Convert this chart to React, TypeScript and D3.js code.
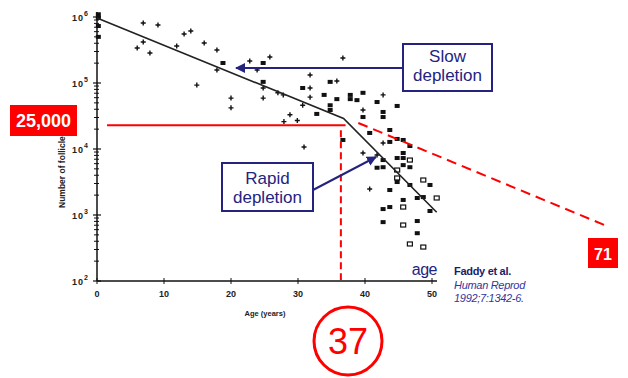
import React, { useEffect, useRef } from "react";
import * as d3 from "d3";

// Follicle counts vs age (Faddy et al. 1992)
const plusAges = [6.9, 9.1, 6.9, 6.0, 7.9, 11.9, 13.0, 14.0, 16.0, 14.9, 17.9, 17.9, 22.8, 25.8, 23.9, 24.8, 20.0, 20.0, 24.8, 27.0, 27.8, 28.8, 27.9, 29.9, 30.7, 31.8, 31.8, 31.8, 36.7, 35.8, 39.7, 42.7, 42.7, 39.7, 41.8, 40.7, 30.9];
const plusCounts = [810000, 757000, 418000, 339000, 285000, 364000, 552000, 614000, 404000, 93000, 316000, 157000, 215000, 248000, 157000, 84000, 59000, 42000, 59000, 71000, 66000, 33000, 26000, 27000, 46000, 132000, 84000, 61000, 239000, 107000, 39000, 66000, 12300, 8700, 8100, 2480, 10700];

const filledAges = [0.2, 0.2, 0.2, 0.2, 18.8, 24.8, 24.8, 30.7, 32.8, 34.8, 33.9, 35.8, 34.8, 34.8, 37.8, 37.8, 38.8, 39.7, 39.7, 41.8, 42.7, 42.7, 44.8, 43.7, 40.7, 44.8, 36.7, 43.7, 45.7, 46.7, 42.7, 41.8, 42.7, 44.8, 45.7, 45.7, 45.7, 46.7, 44.8, 46.7, 49.7, 43.7, 45.7, 47.8, 48.7, 42.7, 43.7, 49.7, 42.7, 47.8, 47.8];
const filledCounts = [1100000, 970000, 730000, 500000, 201000, 201000, 104000, 84000, 34000, 104000, 66000, 57000, 46000, 39000, 66000, 57000, 55000, 71000, 30500, 51500, 36400, 30500, 44900, 19400, 17500, 14200, 13700, 12800, 13700, 11100, 6800, 5200, 5300, 7300, 8700, 7300, 5700, 5300, 3160, 2850, 2850, 2390, 1690, 1810, 1870, 1230, 1320, 1150, 780, 810, 530];

const openAges = [46.7, 44.8, 44.8, 48.7, 50.7, 45.7, 45.7, 46.7, 48.7];
const openCounts = [6800, 4800, 3640, 3390, 1810, 1320, 705, 364, 327];

// two-phase fitted decline
const fitAges = [0, 36.8, 50.7];
const fitCounts = [966000, 29000, 1100];

// 25,000 at 37 projected to 71
const markAge = 36.4;
const markCount = 23000;
const projAges = [39, 75.8];
const projCounts = [24800, 700];

const xTicks = [0, 10, 20, 30, 40, 50];
const yTicks = [100, 1000, 10000, 100000, 1000000];

const NAVY = "#24237f";
const RED = "#ff0000";

const App: React.FC = () => {
  const svgRef = useRef<SVGSVGElement>(null);

  useEffect(() => {
    if (!svgRef.current) return;
    const svg = d3.select(svgRef.current);
    svg.selectAll("*").remove();

    const x = d3.scaleLinear().domain([0, 50]).range([97, 432]);
    const y = d3.scaleLog().domain([100, 1e6]).range([281, 17]);

    svg.append("rect").attr("width", 628).attr("height", 378).attr("fill", "#fff");

    const defs = svg.append("defs");
    defs.append("marker")
      .attr("id", "arrow")
      .attr("viewBox", "0 0 10 10")
      .attr("refX", 9)
      .attr("refY", 5)
      .attr("markerWidth", 5)
      .attr("markerHeight", 5)
      .attr("orient", "auto")
      .append("path")
      .attr("d", "M0,0 L10,5 L0,10 Z")
      .attr("fill", NAVY);

    // axes
    const axis = svg.append("g").attr("stroke", "#111").attr("fill", "none");
    axis.append("line")
      .attr("x1", x(0)).attr("x2", x(0))
      .attr("y1", 281).attr("y2", 12)
      .attr("stroke-width", 1.5);
    axis.append("line")
      .attr("x1", x(0)).attr("x2", x(50.75))
      .attr("y1", 281).attr("y2", 281)
      .attr("stroke-width", 1.5);

    // log minor ticks
    const minor: number[] = [];
    [100, 1000, 10000, 100000].forEach(d => {
      for (let k = 2; k <= 9; k++) minor.push(d * k);
    });
    axis.selectAll(".minor")
      .data(minor)
      .join("line")
      .attr("x1", x(0) - 3).attr("x2", x(0) + 2)
      .attr("y1", d => y(d)).attr("y2", d => y(d))
      .attr("stroke-width", 1);
    axis.selectAll(".major")
      .data(yTicks)
      .join("line")
      .attr("x1", x(0) - 4).attr("x2", x(0) + 4)
      .attr("y1", d => y(d)).attr("y2", d => y(d))
      .attr("stroke-width", 1.2);
    axis.selectAll(".xt")
      .data(xTicks)
      .join("line")
      .attr("x1", d => x(d)).attr("x2", d => x(d))
      .attr("y1", 278).attr("y2", 284)
      .attr("stroke-width", 1);

    const tickFont = "'Liberation Sans', Arial, sans-serif";
    const yl = svg.append("g")
      .attr("font-family", tickFont)
      .attr("font-size", 9)
      .attr("fill", "#222")
      .attr("font-weight", "bold");
    yTicks.forEach(d => {
      const t = yl.append("text")
        .attr("x", 72)
        .attr("y", y(d) + 4)
        .attr("letter-spacing", 1);
      t.append("tspan").text("10");
      t.append("tspan")
        .attr("dy", -5)
        .attr("font-size", 7)
        .text(String(Math.round(Math.log10(d))));
    });

    svg.append("g")
      .attr("font-family", tickFont)
      .attr("font-size", 9)
      .attr("font-weight", "bold")
      .attr("fill", "#222")
      .attr("text-anchor", "middle")
      .selectAll("text")
      .data(xTicks)
      .join("text")
      .attr("x", d => x(d))
      .attr("y", 297)
      .text(d => d);

    svg.append("text")
      .attr("x", 265).attr("y", 316)
      .attr("text-anchor", "middle")
      .attr("font-family", tickFont)
      .attr("font-size", 7.5)
      .attr("font-weight", "bold")
      .attr("fill", "#222")
      .text("Age (years)");

    svg.append("text")
      .attr("transform", "translate(65,208) rotate(-90)")
      .attr("font-family", tickFont)
      .attr("font-size", 8.5)
      .attr("font-weight", "bold")
      .attr("fill", "#222")
      .text("Number of follicles");

    // data points
    const pts = svg.append("g");
    pts.selectAll(".plus")
      .data(plusAges.map((a, i) => [a, plusCounts[i]]))
      .join("path")
      .attr("d", d => {
        const cx = x(d[0]), cy = y(d[1]);
        return `M${cx - 2.5},${cy}H${cx + 2.5}M${cx},${cy - 2.5}V${cy + 2.5}`;
      })
      .attr("stroke", "#111")
      .attr("stroke-width", 1.4);
    pts.selectAll(".filled")
      .data(filledAges.map((a, i) => [a, filledCounts[i]]))
      .join("rect")
      .attr("x", d => x(d[0]) - 2.5)
      .attr("y", d => y(d[1]) - 2)
      .attr("width", 5)
      .attr("height", 4)
      .attr("fill", "#111");
    pts.selectAll(".open")
      .data(openAges.map((a, i) => [a, openCounts[i]]))
      .join("rect")
      .attr("x", d => x(d[0]) - 2.5)
      .attr("y", d => y(d[1]) - 2)
      .attr("width", 5)
      .attr("height", 4)
      .attr("fill", "#fff")
      .attr("stroke", "#111")
      .attr("stroke-width", 1.2);

    // fitted line
    const line = d3.line<number>()
      .x((_, i) => x(fitAges[i]))
      .y(d => y(d));
    svg.append("path")
      .attr("d", line(fitCounts))
      .attr("fill", "none")
      .attr("stroke", "#222")
      .attr("stroke-width", 1.6);

    // red annotations
    svg.append("line")
      .attr("x1", x(1.5)).attr("x2", x(37.1))
      .attr("y1", y(markCount)).attr("y2", y(markCount))
      .attr("stroke", RED).attr("stroke-width", 2);
    svg.append("line")
      .attr("x1", x(markAge)).attr("x2", x(markAge))
      .attr("y1", y(markCount) + 5).attr("y2", 280)
      .attr("stroke", RED).attr("stroke-width", 2)
      .attr("stroke-dasharray", "7,4");
    svg.append("line")
      .attr("x1", x(projAges[0])).attr("x2", x(projAges[1]))
      .attr("y1", y(projCounts[0])).attr("y2", y(projCounts[1]))
      .attr("stroke", RED).attr("stroke-width", 2)
      .attr("stroke-dasharray", "10,6");

    const sans = "'Liberation Sans', Arial, sans-serif";
    svg.append("rect")
      .attr("x", 10).attr("y", 105).attr("width", 67).attr("height", 31)
      .attr("fill", RED);
    svg.append("text")
      .attr("x", 43.5).attr("y", 127)
      .attr("text-anchor", "middle")
      .attr("font-family", sans)
      .attr("font-size", 18)
      .attr("font-weight", "bold")
      .attr("fill", "#fff")
      .text("25,000");

    svg.append("rect")
      .attr("x", 588).attr("y", 238).attr("width", 30).attr("height", 30)
      .attr("fill", RED);
    svg.append("text")
      .attr("x", 603).attr("y", 259.5)
      .attr("text-anchor", "middle")
      .attr("font-family", sans)
      .attr("font-size", 16)
      .attr("font-weight", "bold")
      .attr("fill", "#fff")
      .text("71");

    svg.append("circle")
      .attr("cx", 348).attr("cy", 341).attr("r", 34)
      .attr("fill", "none")
      .attr("stroke", RED)
      .attr("stroke-width", 3);
    svg.append("text")
      .attr("x", 348).attr("y", 354)
      .attr("text-anchor", "middle")
      .attr("font-family", sans)
      .attr("font-size", 36)
      .attr("fill", RED)
      .text("37");

    // callout boxes
    const box = (bx: number, by: number, bw: number, bh: number, lines: string[], base: number) => {
      svg.append("rect")
        .attr("x", bx).attr("y", by).attr("width", bw).attr("height", bh)
        .attr("fill", "#fff")
        .attr("stroke", NAVY)
        .attr("stroke-width", 2);
      lines.forEach((s, i) => {
        svg.append("text")
          .attr("x", bx + bw / 2).attr("y", base + i * 19)
          .attr("text-anchor", "middle")
          .attr("font-family", sans)
          .attr("font-size", 17)
          .attr("fill", NAVY)
          .text(s);
      });
    };
    box(403, 44, 89, 47, ["Slow", "depletion"], 62);
    box(222, 163, 91, 48, ["Rapid", "depletion"], 184);

    svg.append("line")
      .attr("x1", 402).attr("y1", 68).attr("x2", 236).attr("y2", 68)
      .attr("stroke", NAVY).attr("stroke-width", 2)
      .attr("marker-end", "url(#arrow)");
    svg.append("line")
      .attr("x1", 313).attr("y1", 190).attr("x2", 376).attr("y2", 157)
      .attr("stroke", NAVY).attr("stroke-width", 2)
      .attr("marker-end", "url(#arrow)");

    svg.append("text")
      .attr("x", 437).attr("y", 275)
      .attr("text-anchor", "end")
      .attr("font-family", sans)
      .attr("font-size", 16)
      .attr("fill", NAVY)
      .attr("letter-spacing", -0.5)
      .text("age");

    const ref = svg.append("g")
      .attr("font-family", sans)
      .attr("font-size", 11)
      .attr("letter-spacing", -0.3);
    ref.append("text")
      .attr("x", 454).attr("y", 275)
      .attr("font-weight", "bold")
      .attr("fill", "#1c1b6b")
      .text("Faddy et al.");
    ref.append("text")
      .attr("x", 454).attr("y", 288.5)
      .attr("font-style", "italic")
      .attr("fill", "#3434a0")
      .text("Human Reprod");
    ref.append("text")
      .attr("x", 454).attr("y", 302)
      .attr("font-style", "italic")
      .attr("fill", "#3434a0")
      .text("1992;7:1342-6.");
  }, []);

  return (
    <div style={{ position: "absolute", left: 0, top: 0 }}>
      <svg ref={svgRef} width={628} height={378} style={{ display: "block" }} />
    </div>
  );
};

export default App;
